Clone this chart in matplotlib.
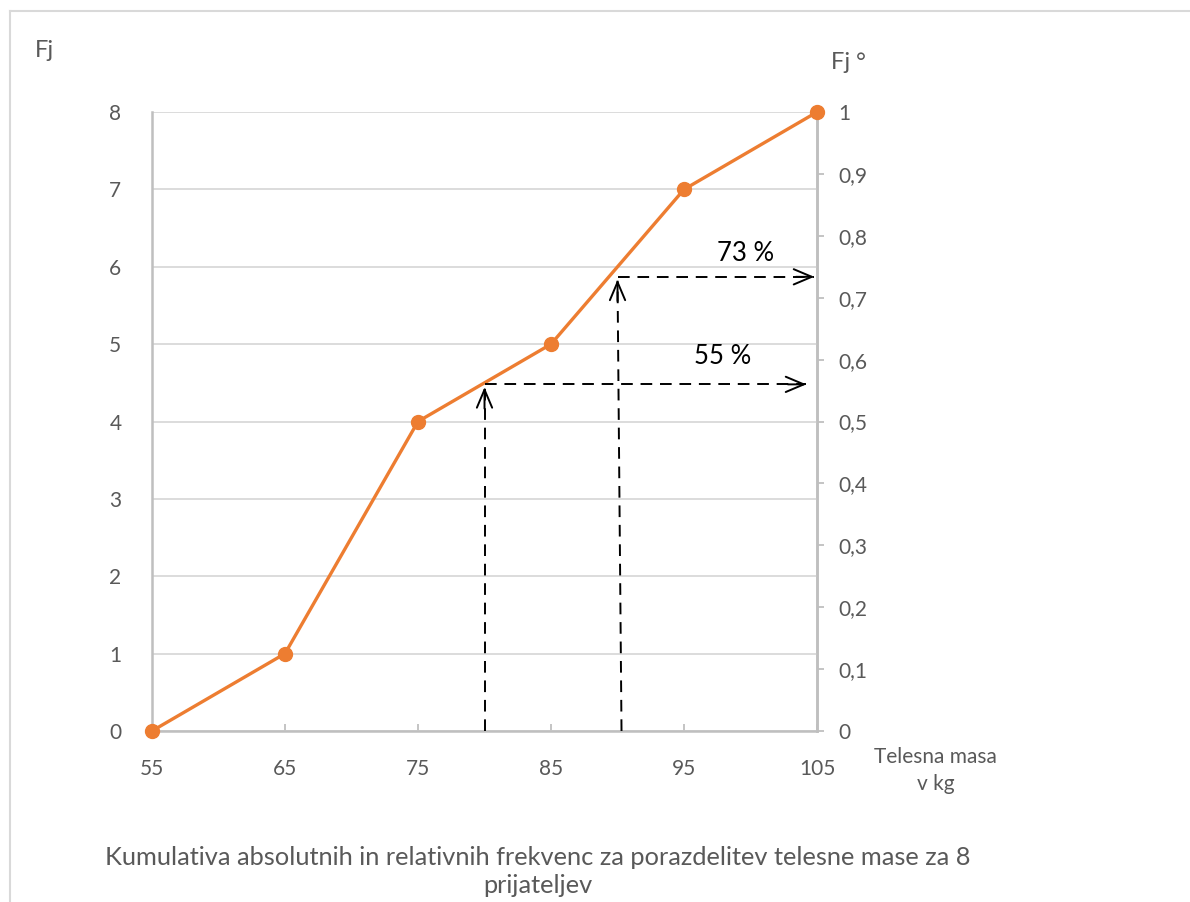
import matplotlib.pyplot as plt
from matplotlib.lines import Line2D

# body mass classes (kg) and cumulative absolute frequencies
masa = [55, 65, 75, 85, 95, 105]
Fj = [0, 1, 4, 5, 7, 8]
n = 8

# read-off guides: (x, cumulative level, label)
guide_55 = (80, 4.48, "55 %")
guide_73 = (90, 5.87, "73 %")

orange = "#ed7d31"
grey_txt = "#595959"
grey_line = "#bfbfbf"
grid_col = "#d9d9d9"

plt.rcParams["font.family"] = ["Lato", "DejaVu Sans"]

fig = plt.figure(figsize=(11.9, 9.02), dpi=100)
ax = fig.add_axes([0.1277, 0.1896, 0.5589, 0.6862])

ax.plot(masa, Fj, color=orange, lw=2.4, marker="o", ms=10, zorder=4, clip_on=False)

ax.set_xlim(55, 105)
ax.set_ylim(0, 8)
ax.set_xticks(masa)
ax.set_yticks(range(0, 9))
ax.grid(axis="y", color=grid_col, lw=1.3)
ax.set_axisbelow(True)

ax.spines["top"].set_visible(False)
for s in ["left", "bottom", "right"]:
    ax.spines[s].set_color(grey_line)
    ax.spines[s].set_linewidth(1.8)

ax.tick_params(axis="x", direction="in", length=5, color=grey_line, width=1.3,
               labelsize=15, labelcolor=grey_txt, pad=20)
ax.tick_params(axis="y", length=0, labelsize=15, labelcolor=grey_txt, pad=22)

ax2 = ax.twinx()
ax2.set_ylim(0, 1)
ticks2 = [i / 10 for i in range(11)]
ax2.set_yticks(ticks2)
ax2.set_yticklabels([("%g" % t).replace(".", ",") for t in ticks2])
ax2.tick_params(axis="y", direction="out", length=5, color=grey_line, width=1.3,
                labelsize=15, labelcolor=grey_txt, pad=10)
for s in ["top", "left", "bottom"]:
    ax2.spines[s].set_visible(False)
ax2.spines["right"].set_color(grey_line)
ax2.spines["right"].set_linewidth(1.8)
ax.set_zorder(ax2.get_zorder() + 1)
ax.patch.set_visible(False)

# dashed read-off lines with open arrow heads
dash = dict(color="black", lw=1.4, ls=(0, (6, 4)), zorder=5)
head = dict(arrowstyle="->,head_length=1.3,head_width=0.55", color="black", lw=1.4)

x1, y1, lab1 = guide_55
ax.plot([x1, x1], [0, y1 - 0.05], **dash)
ax.annotate("", xy=(x1, y1), xytext=(x1, y1 - 0.35), arrowprops=head, zorder=6)
ax.plot([x1, 104.2], [y1, y1], **dash)
ax.annotate("", xy=(104.4, y1), xytext=(102.6, y1), arrowprops=head, zorder=6)
ax.text(97.9, y1 + 0.2, lab1, fontsize=18.5, color="black", ha="center", va="bottom")

x2, y2, lab2 = guide_73
ax.plot([x2 + 0.3, x2], [0, y2 - 0.05], **dash)
ax.annotate("", xy=(x2, y2), xytext=(x2, y2 - 0.35), arrowprops=head, zorder=6)
ax.plot([x2, 104.8], [y2, y2], **dash)
ax.annotate("", xy=(105, y2), xytext=(103.2, y2), arrowprops=head, zorder=6)
ax.text(99.6, y2 + 0.14, lab2, fontsize=18.5, color="black", ha="center", va="bottom")

# axis captions
fig.text(0.029, 0.944, "Fj", fontsize=17, color=grey_txt, ha="left", va="center")
fig.text(0.698, 0.931, "Fj °", fontsize=17, color=grey_txt, ha="left", va="center")
fig.text(0.786, 0.146, "Telesna masa\nv kg", fontsize=15, color=grey_txt,
         ha="center", va="center", linespacing=1.45)

fig.text(0.452, 0.034,
         "Kumulativa absolutnih in relativnih frekvenc za porazdelitev telesne mase za 8\nprijateljev",
         fontsize=18.3, color=grey_txt, ha="center", va="center", linespacing=1.25)

# chart area border
fig.add_artist(Line2D([0.0084, 0.0084], [0.0, 0.988], color=grid_col, lw=1.5))
fig.add_artist(Line2D([0.0084, 1.0], [0.988, 0.988], color=grid_col, lw=1.5))

fig.savefig("out.png", dpi=100)
